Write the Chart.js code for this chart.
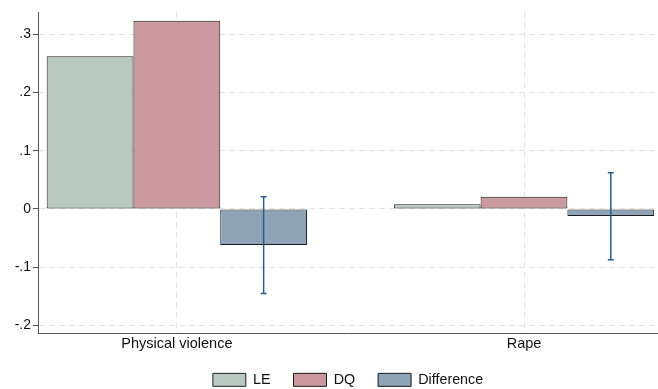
<!DOCTYPE html>
<html>
<head>
<meta charset="utf-8">
<script src="https://cdn.jsdelivr.net/npm/chart.js@4"></script>
<style>
  html, body { margin: 0; padding: 0; background: #fff; overflow: hidden; }
  #wrap { width: 658px; height: 389px; }
</style>
</head>
<body>
<div id="wrap"><canvas id="grafico" width="658" height="389"></canvas></div>
<script>
// categorias e valores
var categorias = ['Physical violence', 'Rape'];
var valoresLE = [0.262, 0.008];
var valoresDQ = [0.323, 0.021];
var valoresDif = [-0.062, -0.012];
var ciBaixo = [-0.145, -0.087];
var ciAlto = [0.021, 0.062];
var ticksY = [-0.2, -0.1, 0, 0.1, 0.2, 0.3];

// monta os pontos {x, y} para o eixo linear
function pontos(valores) {
    var lista = [];
    for (var i = 0; i < valores.length; i++) {
        lista.push({ x: i, y: valores[i] });
    }
    return lista;
}

// desenha as barras de erro em cima da serie Difference
var barrasDeErro = {
    id: 'barrasDeErro',
    afterDatasetsDraw: function(chart) {
        var meta = chart.getDatasetMeta(2);
        var y = chart.scales.y;
        var ctx = chart.ctx;
        ctx.save();
        ctx.strokeStyle = '#2c5e8c';
        ctx.lineWidth = 1.5;
        for (var i = 0; i < meta.data.length; i++) {
            var px = meta.data[i].x;
            var yTopo = y.getPixelForValue(ciAlto[i]);
            var yBase = y.getPixelForValue(ciBaixo[i]);
            ctx.beginPath();
            ctx.moveTo(px, yTopo);
            ctx.lineTo(px, yBase);
            ctx.moveTo(px - 3, yTopo);
            ctx.lineTo(px + 3, yTopo);
            ctx.moveTo(px - 3, yBase);
            ctx.lineTo(px + 3, yBase);
            ctx.stroke();
        }
        ctx.restore();
    }
};

// centraliza a legenda na area do grafico (e nao no canvas todo)
var legendaNoCentro = {
    id: 'legendaNoCentro',
    afterLayout: function(chart) {
        if (chart.legend) {
            chart.legend.left = chart.chartArea.left;
            chart.legend.top -= 4;
            chart.legend.bottom -= 4;
        }
    }
};

Chart.defaults.font.family = '"Liberation Sans", Arial, sans-serif';
Chart.defaults.color = '#111';

new Chart(document.getElementById('grafico'), {
    type: 'bar',
    data: {
        datasets: [
            { label: 'LE', data: pontos(valoresLE), backgroundColor: '#b9c9c2', borderColor: '#222', borderWidth: 1, borderSkipped: false },
            { label: 'DQ', data: pontos(valoresDQ), backgroundColor: '#c9999d', borderColor: '#1a1a1a', borderWidth: 1, borderSkipped: false },
            { label: 'Difference', data: pontos(valoresDif), backgroundColor: '#8ea3b6', borderColor: '#1a1a1a', borderWidth: 1, borderSkipped: false }
        ]
    },
    options: {
        responsive: false,
        animation: false,
        layout: { padding: { top: 12, right: 0, left: 0, bottom: -12 } },
        datasets: { bar: { categoryPercentage: 0.75, barPercentage: 1.0 } },
        scales: {
            x: {
                type: 'linear',
                offset: false,
                min: -0.4,
                max: 1.386,
                afterBuildTicks: function(scale) {
                    scale.ticks = categorias.map(function(c, i) { return { value: i }; });
                },
                ticks: {
                    font: { size: 14.5 },
                    padding: 2,
                    callback: function(v) { return categorias[v]; }
                },
                grid: { offset: false, color: '#e3e3e3', drawTicks: false, lineWidth: 1 },
                border: { color: '#555', dash: [6, 4] },
                afterFit: function(scale) { scale.height = 20; }
            },
            y: {
                min: -0.214,
                max: 0.338,
                afterBuildTicks: function(scale) {
                    scale.ticks = ticksY.map(function(v) { return { value: v }; });
                },
                ticks: {
                    font: { size: 14 },
                    padding: 2,
                    callback: function(v) {
                        var r = Math.round(v * 10) / 10;
                        if (r == 0) return '0';
                        return String(r).replace('0.', '.');
                    }
                },
                grid: { color: '#e3e3e3', tickColor: '#555', tickLength: 5, tickBorderDash: [], lineWidth: 1 },
                border: { color: '#555', dash: [6, 4] },
                afterFit: function(scale) { scale.width = 38; }
            }
        },
        plugins: {
            legend: {
                position: 'bottom',
                labels: { boxWidth: 33, boxHeight: 13, padding: 23, font: { size: 14.3 }, color: '#111' }
            },
            tooltip: { enabled: false }
        }
    },
    plugins: [barrasDeErro, legendaNoCentro]
});
</script>
</body>
</html>
